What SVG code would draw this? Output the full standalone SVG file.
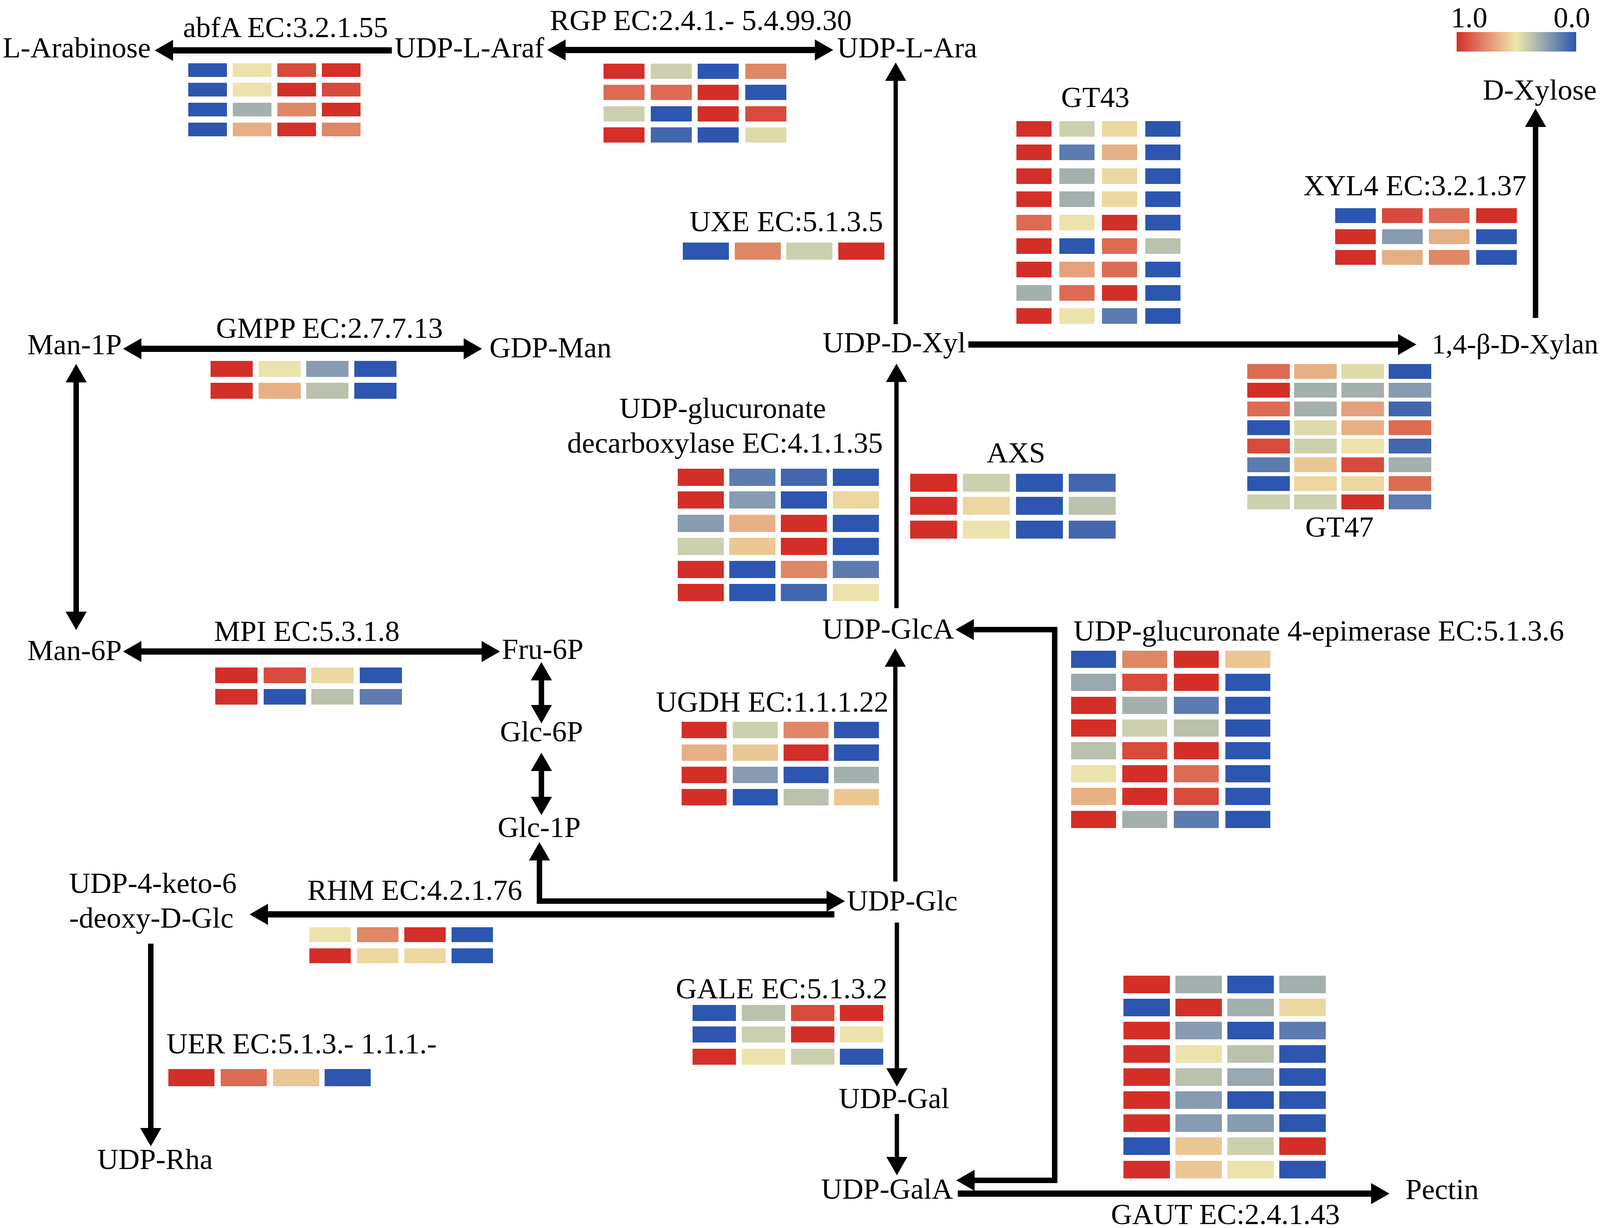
<svg xmlns="http://www.w3.org/2000/svg" width="4317" height="3144" viewBox="0 0 4317 3144">
<style>
.t{font-family:"Liberation Serif","Times New Roman",serif;font-size:75px;fill:#000}
.c{fill:none;stroke:#000;stroke-linejoin:miter}
.h{stroke-width:16}
.v{stroke-width:14}
.n{stroke-width:11}
.r{fill:#d32f28}.r2{fill:#d84a3c}.o{fill:#dd6b53}.o2{fill:#e08766}.o3{fill:#e5a17b}
.p{fill:#e7b084}.p2{fill:#ebc794}.y{fill:#ece3ac}.y2{fill:#ecd7a0}.y3{fill:#dedbab}
.g{fill:#cdd0ae}.g3{fill:#bac1ad}.g2{fill:#a4b0ae}.g4{fill:#98a7b0}.bg{fill:#879bb1}
.b2{fill:#5c7bb0}.b3{fill:#4466ae}.b{fill:#2c56b0}
</style>
<defs>
<marker id="ah" viewBox="0 0 47 54" refX="1" refY="27" markerWidth="47" markerHeight="54" markerUnits="userSpaceOnUse" orient="auto-start-reverse"><path d="M0,0 L47,27 L0,54 z" fill="#000"/></marker>
<linearGradient id="lg" x1="0" y1="0" x2="1" y2="0">
<stop offset="0" stop-color="#d32f28"/><stop offset="0.28" stop-color="#e6977a"/><stop offset="0.5" stop-color="#ede7a9"/><stop offset="0.72" stop-color="#9aa9b0"/><stop offset="1" stop-color="#2c56b0"/>
</linearGradient>
</defs>
<rect width="4317" height="3144" fill="#fff"/>

<g id="connectors">
<path class="c h" d="M1003,129 H442" marker-end="url(#ah)"/>
<path class="c h" d="M1447,128 H2087" marker-start="url(#ah)" marker-end="url(#ah)"/>
<path class="c n" d="M2293,830 V206" marker-end="url(#ah)"/>
<path class="c h" d="M2479,882 H3580" marker-end="url(#ah)"/>
<path class="c v" d="M3931,814 V324" marker-end="url(#ah)"/>
<path class="c h" d="M361,893 H1188" marker-start="url(#ah)" marker-end="url(#ah)"/>
<path class="c v" d="M195,978 V1567" marker-start="url(#ah)" marker-end="url(#ah)"/>
<path class="c h" d="M361,1668 H1234" marker-start="url(#ah)" marker-end="url(#ah)"/>
<path class="c v" d="M1386,1741 V1806" marker-start="url(#ah)" marker-end="url(#ah)"/>
<path class="c v" d="M1386,1973 V2041" marker-start="url(#ah)" marker-end="url(#ah)"/>
<path class="c n" d="M2295,1557 V977" marker-end="url(#ah)"/>
<path class="c n" d="M2292,2257 V1706" marker-end="url(#ah)"/>
<path class="c v" d="M1381,2202 V2307 H2117" marker-start="url(#ah)" marker-end="url(#ah)"/>
<path class="c h" d="M2136,2341 H685" marker-end="url(#ah)"/>
<path class="c v" d="M386,2416 V2889" marker-end="url(#ah)"/>
<path class="c n" d="M2296,2362 V2736" marker-end="url(#ah)"/>
<path class="c n" d="M2296,2852 V2963" marker-end="url(#ah)"/>
<path class="c v" d="M2494,3022 H2700 V1612 H2492" marker-start="url(#ah)" marker-end="url(#ah)"/>
<path class="c h" d="M2452,3056 H3511" marker-end="url(#ah)"/>
</g>

<g id="legend">
<text class="t" x="3714" y="70">1.0</text>
<text class="t" x="3977" y="70">0.0</text>
<rect x="3729" y="82" width="306" height="50" fill="url(#lg)"/>
</g>

<g id="n-l-arabinose"><text class="t" x="7" y="147">L-Arabinose</text></g>
<g id="n-udp-l-araf"><text class="t" x="1010" y="147">UDP-L-Araf</text></g>
<g id="n-udp-l-ara"><text class="t" x="2143" y="147">UDP-L-Ara</text></g>
<g id="n-udp-d-xyl"><text class="t" x="2106" y="902">UDP-D-Xyl</text></g>
<g id="n-xylan"><text class="t" x="3665" y="905" style="font-size:72px">1,4-β-D-Xylan</text></g>
<g id="n-d-xylose"><text class="t" x="3796" y="255">D-Xylose</text></g>
<g id="n-man-1p"><text class="t" x="70" y="907">Man-1P</text></g>
<g id="n-gdp-man"><text class="t" x="1253" y="915">GDP-Man</text></g>
<g id="n-man-6p"><text class="t" x="70" y="1690">Man-6P</text></g>
<g id="n-fru-6p"><text class="t" x="1285" y="1687">Fru-6P</text></g>
<g id="n-glc-6p"><text class="t" x="1280" y="1898">Glc-6P</text></g>
<g id="n-glc-1p"><text class="t" x="1274" y="2143">Glc-1P</text></g>
<g id="n-udp-glca"><text class="t" x="2105" y="1635">UDP-GlcA</text></g>
<g id="n-udp-glc"><text class="t" x="2168" y="2331">UDP-Glc</text></g>
<g id="n-udp-keto"><text class="t" x="177" y="2286">UDP-4-keto-6</text><text class="t" x="177" y="2375">-deoxy-D-Glc</text></g>
<g id="n-udp-rha"><text class="t" x="249" y="2993">UDP-Rha</text></g>
<g id="n-udp-gal"><text class="t" x="2147" y="2837">UDP-Gal</text></g>
<g id="n-udp-gala"><text class="t" x="2102" y="3069">UDP-GalA</text></g>
<g id="n-pectin"><text class="t" x="3598" y="3070">Pectin</text></g>

<g id="e-abfa">
<text class="t" x="731" y="95" text-anchor="middle">abfA EC:3.2.1.55</text>
<rect class="b" x="482" y="162" width="99" height="35"/><rect class="y" x="596" y="162" width="99" height="35"/><rect class="r2" x="710" y="162" width="99" height="35"/><rect class="r" x="824" y="162" width="99" height="35"/>
<rect class="b" x="482" y="212" width="99" height="35"/><rect class="y" x="596" y="212" width="99" height="35"/><rect class="r" x="710" y="212" width="99" height="35"/><rect class="r2" x="824" y="212" width="99" height="35"/>
<rect class="b" x="482" y="263" width="99" height="35"/><rect class="g2" x="596" y="263" width="99" height="35"/><rect class="o2" x="710" y="263" width="99" height="35"/><rect class="r" x="824" y="263" width="99" height="35"/>
<rect class="b" x="482" y="314" width="99" height="35"/><rect class="p" x="596" y="314" width="99" height="35"/><rect class="r" x="710" y="314" width="99" height="35"/><rect class="o2" x="824" y="314" width="99" height="35"/>
</g>

<g id="e-rgp">
<text class="t" x="1794" y="77" text-anchor="middle">RGP EC:2.4.1.- 5.4.99.30</text>
<rect class="r" x="1545" y="163" width="105" height="39"/><rect class="g" x="1666" y="163" width="105" height="39"/><rect class="b" x="1786" y="163" width="105" height="39"/><rect class="o2" x="1908" y="163" width="105" height="39"/>
<rect class="o" x="1545" y="217" width="105" height="39"/><rect class="o" x="1666" y="217" width="105" height="39"/><rect class="r" x="1786" y="217" width="105" height="39"/><rect class="b" x="1908" y="217" width="105" height="39"/>
<rect class="g" x="1545" y="272" width="105" height="39"/><rect class="b" x="1666" y="272" width="105" height="39"/><rect class="r" x="1786" y="272" width="105" height="39"/><rect class="r2" x="1908" y="272" width="105" height="39"/>
<rect class="r" x="1545" y="326" width="105" height="39"/><rect class="b3" x="1666" y="326" width="105" height="39"/><rect class="b" x="1786" y="326" width="105" height="39"/><rect class="y3" x="1908" y="326" width="105" height="39"/>
</g>

<g id="e-gt43">
<text class="t" x="2804" y="274" text-anchor="middle">GT43</text>
<rect class="r" x="2602" y="310" width="90" height="40"/><rect class="g" x="2712" y="310" width="90" height="40"/><rect class="y2" x="2821" y="310" width="90" height="40"/><rect class="b" x="2932" y="310" width="90" height="40"/>
<rect class="r" x="2602" y="370" width="90" height="40"/><rect class="b2" x="2712" y="370" width="90" height="40"/><rect class="p" x="2821" y="370" width="90" height="40"/><rect class="b" x="2932" y="370" width="90" height="40"/>
<rect class="r" x="2602" y="431" width="90" height="40"/><rect class="g2" x="2712" y="431" width="90" height="40"/><rect class="y2" x="2821" y="431" width="90" height="40"/><rect class="b" x="2932" y="431" width="90" height="40"/>
<rect class="r" x="2602" y="490" width="90" height="40"/><rect class="g2" x="2712" y="490" width="90" height="40"/><rect class="y2" x="2821" y="490" width="90" height="40"/><rect class="b" x="2932" y="490" width="90" height="40"/>
<rect class="o" x="2602" y="550" width="90" height="40"/><rect class="y" x="2712" y="550" width="90" height="40"/><rect class="r" x="2821" y="550" width="90" height="40"/><rect class="b" x="2932" y="550" width="90" height="40"/>
<rect class="r" x="2602" y="610" width="90" height="40"/><rect class="b" x="2712" y="610" width="90" height="40"/><rect class="o" x="2821" y="610" width="90" height="40"/><rect class="g3" x="2932" y="610" width="90" height="40"/>
<rect class="r" x="2602" y="670" width="90" height="40"/><rect class="o3" x="2712" y="670" width="90" height="40"/><rect class="o" x="2821" y="670" width="90" height="40"/><rect class="b" x="2932" y="670" width="90" height="40"/>
<rect class="g2" x="2602" y="730" width="90" height="40"/><rect class="o" x="2712" y="730" width="90" height="40"/><rect class="r" x="2821" y="730" width="90" height="40"/><rect class="b" x="2932" y="730" width="90" height="40"/>
<rect class="r" x="2602" y="789" width="90" height="40"/><rect class="y" x="2712" y="789" width="90" height="40"/><rect class="b2" x="2821" y="789" width="90" height="40"/><rect class="b" x="2932" y="789" width="90" height="40"/>
</g>

<g id="e-xyl4">
<text class="t" x="3337" y="500">XYL4 EC:3.2.1.37</text>
<rect class="b" x="3418" y="533" width="104" height="38"/><rect class="r2" x="3538" y="533" width="104" height="38"/><rect class="o" x="3658" y="533" width="104" height="38"/><rect class="r" x="3779" y="533" width="104" height="38"/>
<rect class="r" x="3418" y="587" width="104" height="38"/><rect class="bg" x="3538" y="587" width="104" height="38"/><rect class="p" x="3658" y="587" width="104" height="38"/><rect class="b" x="3779" y="587" width="104" height="38"/>
<rect class="r" x="3418" y="640" width="104" height="38"/><rect class="p" x="3538" y="640" width="104" height="38"/><rect class="o2" x="3658" y="640" width="104" height="38"/><rect class="b" x="3779" y="640" width="104" height="38"/>
</g>

<g id="e-uxe">
<text class="t" x="1765" y="592">UXE EC:5.1.3.5</text>
<rect class="b" x="1748" y="621" width="118" height="44"/><rect class="o2" x="1881" y="621" width="118" height="44"/><rect class="g" x="2013" y="621" width="118" height="44"/><rect class="r" x="2146" y="621" width="118" height="44"/>
</g>

<g id="e-gmpp">
<text class="t" x="553" y="865">GMPP EC:2.7.7.13</text>
<rect class="r" x="539" y="924" width="108" height="41"/><rect class="y" x="662" y="924" width="108" height="41"/><rect class="bg" x="784" y="924" width="108" height="41"/><rect class="b" x="907" y="924" width="108" height="41"/>
<rect class="r" x="539" y="980" width="108" height="41"/><rect class="p" x="662" y="980" width="108" height="41"/><rect class="g3" x="784" y="980" width="108" height="41"/><rect class="b" x="907" y="980" width="108" height="41"/>
</g>

<g id="e-decarboxylase">
<text class="t" x="1850" y="1070" text-anchor="middle">UDP-glucuronate</text>
<text class="t" x="1856" y="1159" text-anchor="middle">decarboxylase EC:4.1.1.35</text>
<rect class="r" x="1735" y="1200" width="118" height="44"/><rect class="b2" x="1867" y="1200" width="118" height="44"/><rect class="b3" x="1999" y="1200" width="118" height="44"/><rect class="b" x="2132" y="1200" width="118" height="44"/>
<rect class="r" x="1735" y="1258" width="118" height="44"/><rect class="bg" x="1867" y="1258" width="118" height="44"/><rect class="b" x="1999" y="1258" width="118" height="44"/><rect class="y2" x="2132" y="1258" width="118" height="44"/>
<rect class="bg" x="1735" y="1318" width="118" height="44"/><rect class="p" x="1867" y="1318" width="118" height="44"/><rect class="r" x="1999" y="1318" width="118" height="44"/><rect class="b" x="2132" y="1318" width="118" height="44"/>
<rect class="g" x="1735" y="1377" width="118" height="44"/><rect class="p2" x="1867" y="1377" width="118" height="44"/><rect class="r" x="1999" y="1377" width="118" height="44"/><rect class="b" x="2132" y="1377" width="118" height="44"/>
<rect class="r" x="1735" y="1436" width="118" height="44"/><rect class="b" x="1867" y="1436" width="118" height="44"/><rect class="o2" x="1999" y="1436" width="118" height="44"/><rect class="b2" x="2132" y="1436" width="118" height="44"/>
<rect class="r" x="1735" y="1495" width="118" height="44"/><rect class="b" x="1867" y="1495" width="118" height="44"/><rect class="b3" x="1999" y="1495" width="118" height="44"/><rect class="y" x="2132" y="1495" width="118" height="44"/>
</g>

<g id="e-axs">
<text class="t" x="2601" y="1184" text-anchor="middle">AXS</text>
<rect class="r" x="2330" y="1213" width="120" height="46"/><rect class="g" x="2465" y="1213" width="120" height="46"/><rect class="b" x="2601" y="1213" width="120" height="46"/><rect class="b3" x="2736" y="1213" width="120" height="46"/>
<rect class="r" x="2330" y="1272" width="120" height="46"/><rect class="y2" x="2465" y="1272" width="120" height="46"/><rect class="b" x="2601" y="1272" width="120" height="46"/><rect class="g3" x="2736" y="1272" width="120" height="46"/>
<rect class="r" x="2330" y="1333" width="120" height="46"/><rect class="y" x="2465" y="1333" width="120" height="46"/><rect class="b" x="2601" y="1333" width="120" height="46"/><rect class="b3" x="2736" y="1333" width="120" height="46"/>
</g>

<g id="e-gt47">
<text class="t" x="3429" y="1374" text-anchor="middle">GT47</text>
<rect class="o" x="3193" y="932" width="109" height="38"/><rect class="p" x="3313" y="932" width="109" height="38"/><rect class="y3" x="3434" y="932" width="109" height="38"/><rect class="b" x="3555" y="932" width="109" height="38"/>
<rect class="r" x="3193" y="980" width="109" height="38"/><rect class="g2" x="3313" y="980" width="109" height="38"/><rect class="g2" x="3434" y="980" width="109" height="38"/><rect class="bg" x="3555" y="980" width="109" height="38"/>
<rect class="o" x="3193" y="1028" width="109" height="38"/><rect class="g2" x="3313" y="1028" width="109" height="38"/><rect class="o3" x="3434" y="1028" width="109" height="38"/><rect class="b3" x="3555" y="1028" width="109" height="38"/>
<rect class="b" x="3193" y="1076" width="109" height="38"/><rect class="y3" x="3313" y="1076" width="109" height="38"/><rect class="p" x="3434" y="1076" width="109" height="38"/><rect class="o" x="3555" y="1076" width="109" height="38"/>
<rect class="r2" x="3193" y="1123" width="109" height="38"/><rect class="g" x="3313" y="1123" width="109" height="38"/><rect class="y" x="3434" y="1123" width="109" height="38"/><rect class="b3" x="3555" y="1123" width="109" height="38"/>
<rect class="b2" x="3193" y="1171" width="109" height="38"/><rect class="p2" x="3313" y="1171" width="109" height="38"/><rect class="r2" x="3434" y="1171" width="109" height="38"/><rect class="g2" x="3555" y="1171" width="109" height="38"/>
<rect class="b" x="3193" y="1219" width="109" height="38"/><rect class="y2" x="3313" y="1219" width="109" height="38"/><rect class="y2" x="3434" y="1219" width="109" height="38"/><rect class="o" x="3555" y="1219" width="109" height="38"/>
<rect class="g" x="3193" y="1266" width="109" height="38"/><rect class="g" x="3313" y="1266" width="109" height="38"/><rect class="r" x="3434" y="1266" width="109" height="38"/><rect class="b2" x="3555" y="1266" width="109" height="38"/>
</g>

<g id="e-mpi">
<text class="t" x="548" y="1641">MPI EC:5.3.1.8</text>
<rect class="r" x="551" y="1709" width="108" height="40"/><rect class="r2" x="675" y="1709" width="108" height="40"/><rect class="y2" x="797" y="1709" width="108" height="40"/><rect class="b" x="921" y="1709" width="108" height="40"/>
<rect class="r" x="551" y="1764" width="108" height="40"/><rect class="b" x="675" y="1764" width="108" height="40"/><rect class="g3" x="797" y="1764" width="108" height="40"/><rect class="b2" x="921" y="1764" width="108" height="40"/>
</g>

<g id="e-ugdh">
<text class="t" x="1679" y="1822">UGDH EC:1.1.1.22</text>
<rect class="r" x="1745" y="1848" width="115" height="42"/><rect class="g" x="1876" y="1848" width="115" height="42"/><rect class="o2" x="2006" y="1848" width="115" height="42"/><rect class="b" x="2135" y="1848" width="115" height="42"/>
<rect class="p" x="1745" y="1906" width="115" height="42"/><rect class="p2" x="1876" y="1906" width="115" height="42"/><rect class="r" x="2006" y="1906" width="115" height="42"/><rect class="b" x="2135" y="1906" width="115" height="42"/>
<rect class="r" x="1745" y="1963" width="115" height="42"/><rect class="bg" x="1876" y="1963" width="115" height="42"/><rect class="b" x="2006" y="1963" width="115" height="42"/><rect class="g2" x="2135" y="1963" width="115" height="42"/>
<rect class="r" x="1745" y="2020" width="115" height="42"/><rect class="b" x="1876" y="2020" width="115" height="42"/><rect class="g3" x="2006" y="2020" width="115" height="42"/><rect class="p2" x="2135" y="2020" width="115" height="42"/>
</g>

<g id="e-epimerase">
<text class="t" x="2748" y="1640">UDP-glucuronate 4-epimerase EC:5.1.3.6</text>
<rect class="b" x="2742" y="1666" width="115" height="44"/><rect class="o2" x="2873" y="1666" width="115" height="44"/><rect class="r" x="3005" y="1666" width="115" height="44"/><rect class="p2" x="3137" y="1666" width="115" height="44"/>
<rect class="g4" x="2742" y="1725" width="115" height="44"/><rect class="r2" x="2873" y="1725" width="115" height="44"/><rect class="r" x="3005" y="1725" width="115" height="44"/><rect class="b" x="3137" y="1725" width="115" height="44"/>
<rect class="r" x="2742" y="1784" width="115" height="44"/><rect class="g2" x="2873" y="1784" width="115" height="44"/><rect class="b2" x="3005" y="1784" width="115" height="44"/><rect class="b" x="3137" y="1784" width="115" height="44"/>
<rect class="r" x="2742" y="1842" width="115" height="44"/><rect class="g" x="2873" y="1842" width="115" height="44"/><rect class="g3" x="3005" y="1842" width="115" height="44"/><rect class="b" x="3137" y="1842" width="115" height="44"/>
<rect class="g3" x="2742" y="1900" width="115" height="44"/><rect class="r2" x="2873" y="1900" width="115" height="44"/><rect class="r" x="3005" y="1900" width="115" height="44"/><rect class="b" x="3137" y="1900" width="115" height="44"/>
<rect class="y" x="2742" y="1959" width="115" height="44"/><rect class="r" x="2873" y="1959" width="115" height="44"/><rect class="o" x="3005" y="1959" width="115" height="44"/><rect class="b" x="3137" y="1959" width="115" height="44"/>
<rect class="p" x="2742" y="2017" width="115" height="44"/><rect class="r" x="2873" y="2017" width="115" height="44"/><rect class="r2" x="3005" y="2017" width="115" height="44"/><rect class="b" x="3137" y="2017" width="115" height="44"/>
<rect class="r" x="2742" y="2076" width="115" height="44"/><rect class="g2" x="2873" y="2076" width="115" height="44"/><rect class="b2" x="3005" y="2076" width="115" height="44"/><rect class="b" x="3137" y="2076" width="115" height="44"/>
</g>

<g id="e-rhm">
<text class="t" x="787" y="2304">RHM EC:4.2.1.76</text>
<rect class="y" x="792" y="2374" width="106" height="38"/><rect class="o2" x="914" y="2374" width="106" height="38"/><rect class="r" x="1035" y="2374" width="106" height="38"/><rect class="b" x="1156" y="2374" width="106" height="38"/>
<rect class="r" x="792" y="2428" width="106" height="38"/><rect class="y2" x="914" y="2428" width="106" height="38"/><rect class="y2" x="1035" y="2428" width="106" height="38"/><rect class="b" x="1156" y="2428" width="106" height="38"/>
</g>

<g id="e-uer">
<text class="t" x="426" y="2697">UER EC:5.1.3.- 1.1.1.-</text>
<rect class="r" x="431" y="2737" width="118" height="44"/><rect class="o" x="565" y="2737" width="118" height="44"/><rect class="p2" x="699" y="2737" width="118" height="44"/><rect class="b" x="831" y="2737" width="118" height="44"/>
</g>

<g id="e-gale">
<text class="t" x="1730" y="2556">GALE EC:5.1.3.2</text>
<rect class="b" x="1773" y="2573" width="111" height="41"/><rect class="g3" x="1899" y="2573" width="111" height="41"/><rect class="r2" x="2025" y="2573" width="111" height="41"/><rect class="r" x="2150" y="2573" width="111" height="41"/>
<rect class="b" x="1773" y="2628" width="111" height="41"/><rect class="g" x="1899" y="2628" width="111" height="41"/><rect class="r" x="2025" y="2628" width="111" height="41"/><rect class="y" x="2150" y="2628" width="111" height="41"/>
<rect class="r" x="1773" y="2685" width="111" height="41"/><rect class="y" x="1899" y="2685" width="111" height="41"/><rect class="g" x="2025" y="2685" width="111" height="41"/><rect class="b" x="2150" y="2685" width="111" height="41"/>
</g>

<g id="e-gaut">
<text class="t" x="2844" y="3134">GAUT EC:2.4.1.43</text>
<rect class="r" x="2876" y="2498" width="119" height="45"/><rect class="g2" x="3009" y="2498" width="119" height="45"/><rect class="b" x="3142" y="2498" width="119" height="45"/><rect class="g2" x="3275" y="2498" width="119" height="45"/>
<rect class="b" x="2876" y="2557" width="119" height="45"/><rect class="r" x="3009" y="2557" width="119" height="45"/><rect class="g2" x="3142" y="2557" width="119" height="45"/><rect class="y2" x="3275" y="2557" width="119" height="45"/>
<rect class="r" x="2876" y="2616" width="119" height="45"/><rect class="bg" x="3009" y="2616" width="119" height="45"/><rect class="b" x="3142" y="2616" width="119" height="45"/><rect class="b2" x="3275" y="2616" width="119" height="45"/>
<rect class="r" x="2876" y="2676" width="119" height="45"/><rect class="y" x="3009" y="2676" width="119" height="45"/><rect class="g3" x="3142" y="2676" width="119" height="45"/><rect class="b" x="3275" y="2676" width="119" height="45"/>
<rect class="r" x="2876" y="2735" width="119" height="45"/><rect class="g3" x="3009" y="2735" width="119" height="45"/><rect class="g4" x="3142" y="2735" width="119" height="45"/><rect class="b" x="3275" y="2735" width="119" height="45"/>
<rect class="r" x="2876" y="2794" width="119" height="45"/><rect class="bg" x="3009" y="2794" width="119" height="45"/><rect class="b" x="3142" y="2794" width="119" height="45"/><rect class="b" x="3275" y="2794" width="119" height="45"/>
<rect class="r" x="2876" y="2853" width="119" height="45"/><rect class="bg" x="3009" y="2853" width="119" height="45"/><rect class="bg" x="3142" y="2853" width="119" height="45"/><rect class="b" x="3275" y="2853" width="119" height="45"/>
<rect class="b" x="2876" y="2912" width="119" height="45"/><rect class="p2" x="3009" y="2912" width="119" height="45"/><rect class="g" x="3142" y="2912" width="119" height="45"/><rect class="r" x="3275" y="2912" width="119" height="45"/>
<rect class="r" x="2876" y="2972" width="119" height="45"/><rect class="p2" x="3009" y="2972" width="119" height="45"/><rect class="y" x="3142" y="2972" width="119" height="45"/><rect class="b" x="3275" y="2972" width="119" height="45"/>
</g>
</svg>
